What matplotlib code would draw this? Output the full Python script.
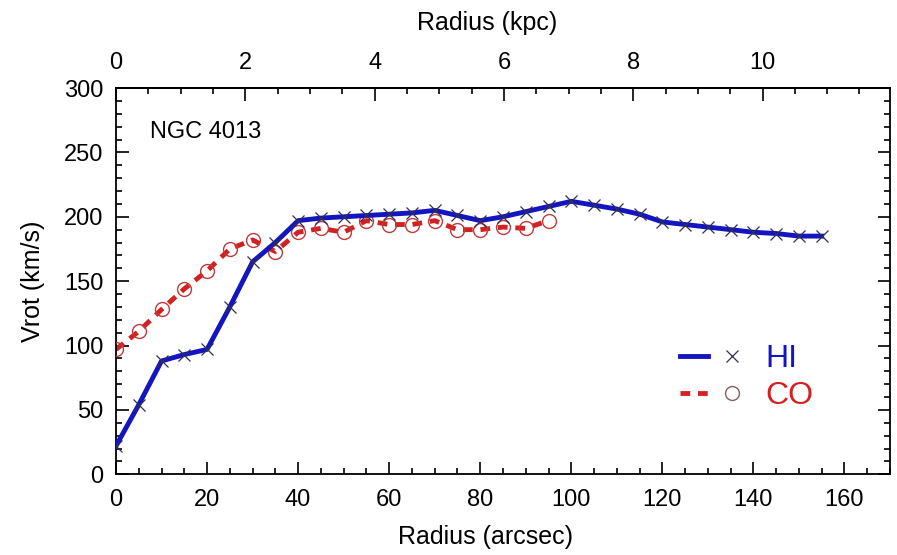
import matplotlib
matplotlib.use('Agg')
import matplotlib.pyplot as plt
from matplotlib.lines import Line2D
from matplotlib.legend_handler import HandlerTuple
from matplotlib.ticker import MultipleLocator, FixedLocator

plt.rcParams['font.family'] = ['Liberation Sans', 'DejaVu Sans']

# Rotation curve data (radius in arcsec, Vrot in km/s)
hi_radius = [0, 5, 10, 15, 20, 25, 30, 35, 40, 45, 50, 55, 60, 65, 70, 75,
             80, 85, 90, 95, 100, 105, 110, 115, 120, 125, 130, 135, 140,
             145, 150, 155]
hi_vrot = [22, 54, 88, 93, 97, 130, 165, 180, 197, 199, 200, 201, 202, 203,
           205, 201, 197, 200, 204, 208, 212, 209, 206, 202, 196, 194, 192,
           190, 188, 187, 185, 185]

co_radius = [0, 5, 10, 15, 20, 25, 30, 35, 40, 45, 50, 55, 60, 65, 70, 75,
             80, 85, 90, 95]
co_vrot = [97, 111, 128, 144, 158, 175, 182, 173, 188, 191, 188, 197, 194,
           194, 197, 190, 190, 192, 191, 197]

ARCSEC_PER_KPC = 14.2
kpc_ticks = [0, 2, 4, 6, 8, 10]

BLUE = '#1414c0'
RED = '#d42020'
MARK_DARK = '#303050'

fig = plt.figure(figsize=(8.97, 5.55), dpi=100)
ax = fig.add_axes([0.1293, 0.1454, 0.8629, 0.696])

# CO first, HI drawn on top
ax.plot(co_radius, co_vrot, color=RED, lw=3.5, ls=(0, (2, 1.6)), zorder=2)
ax.plot(co_radius, co_vrot, ls='none', marker='o', ms=10, mfc='none',
        mec='#c03a3a', mew=1.0, zorder=3)
ax.plot(hi_radius, hi_vrot, color=BLUE, lw=3.5, zorder=4)
ax.plot(hi_radius, hi_vrot, ls='none', marker='x', ms=9, mec=MARK_DARK,
        mew=0.9, zorder=5)

ax.set_xlim(0, 170)
ax.set_ylim(0, 300)
ax.xaxis.set_major_locator(MultipleLocator(20))
ax.xaxis.set_minor_locator(MultipleLocator(5))
ax.yaxis.set_major_locator(MultipleLocator(50))
ax.yaxis.set_minor_locator(MultipleLocator(10))

ax.tick_params(which='both', direction='in', right=True, top=False,
               width=1.2, labelsize=17)
ax.tick_params(axis='x', pad=10.5)
ax.tick_params(axis='y', pad=9)
ax.tick_params(which='major', length=9)
ax.tick_params(which='minor', length=4.5)
for s in ax.spines.values():
    s.set_linewidth(1.3)

ax.set_xlabel('Radius (arcsec)', fontsize=18, labelpad=10)
ax.xaxis.label.set_x(0.477)
ax.set_ylabel('Vrot (km/s)', fontsize=18, labelpad=14)

# top axis in kpc
top = ax.secondary_xaxis('top', functions=(lambda x: x / ARCSEC_PER_KPC,
                                           lambda k: k * ARCSEC_PER_KPC))
top.xaxis.set_major_locator(FixedLocator(kpc_ticks))
top.xaxis.set_minor_locator(MultipleLocator(0.5))
top.tick_params(which='both', direction='in', width=1.2, labelsize=17, pad=10)
top.tick_params(which='major', length=9)
top.tick_params(which='minor', length=4.5)
top.spines['top'].set_linewidth(1.3)
top.set_xlabel('Radius (kpc)', fontsize=18, labelpad=16)
top.xaxis.label.set_x(0.48)

ax.text(0.044, 0.915, 'NGC 4013', transform=ax.transAxes, fontsize=17,
        va='top', ha='left')

# legend: line segment then marker, coloured labels
hi_line = Line2D([], [], color=BLUE, lw=3.5)
hi_mark = Line2D([], [], ls='none', marker='x', ms=9, mec=MARK_DARK, mew=0.9)
co_line = Line2D([], [], color=RED, lw=3.5, ls=(0, (2, 1.6)))
co_mark = Line2D([], [], ls='none', marker='o', ms=10, mfc='none',
                 mec='#806060', mew=1.0)
ax.legend([(hi_line, hi_mark), (co_line, co_mark)], ['HI', 'CO'],
          handler_map={tuple: HandlerTuple(ndivide=2, pad=0.3)},
          loc='center left', bbox_to_anchor=(0.729, 0.25), frameon=False,
          fontsize=23, handlelength=2.05, handletextpad=0.6,
          labelspacing=0.22, borderpad=0, borderaxespad=0,
          labelcolor=[BLUE, RED])

fig.savefig('out.png', dpi=100)
